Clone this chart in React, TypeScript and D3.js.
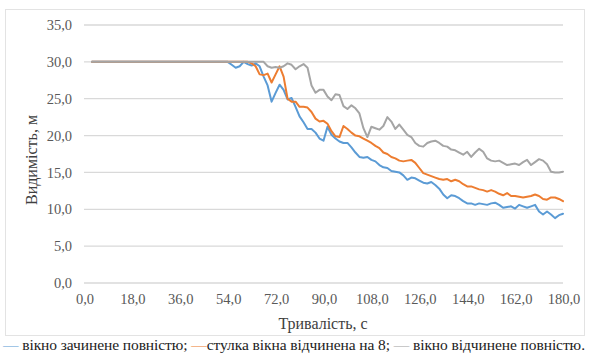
import React from "react";
import * as d3 from "d3";

const TIMES: number[] = [
  3, 4.5, 6, 7.5, 9, 10.5, 12, 13.5, 15, 16.5,
  18, 19.5, 21, 22.5, 24, 25.5, 27, 28.5, 30, 31.5,
  33, 34.5, 36, 37.5, 39, 40.5, 42, 43.5, 45, 46.5,
  48, 49.5, 51, 52.5, 54,
  55.5, 57, 58.5, 60, 61.5, 63, 64.5, 66, 67.5, 69,
  70.5, 72, 73.5, 75, 76.5, 78, 79.5, 81, 82.5, 84,
  85.5, 87, 88.5, 90, 91.5, 93, 94.5, 96, 97.5, 99,
  100.5, 102, 103.5, 105, 106.5, 108, 109.5, 111, 112.5, 114,
  115.5, 117, 118.5, 120, 121.5, 123, 124.5, 126, 127.5, 129,
  130.5, 132, 133.5, 135, 136.5, 138, 139.5, 141, 142.5, 144,
  145.5, 147, 148.5, 150, 151.5, 153, 154.5, 156, 157.5, 159,
  160.5, 162, 163.5, 165, 166.5, 168, 169.5, 171, 172.5, 174,
  175.5, 177, 178.5, 180,
];

const CLOSED: number[] = [
  30, 30, 30, 30, 30, 30, 30, 30, 30, 30,
  30, 30, 30, 30, 30, 30, 30, 30, 30, 30,
  30, 30, 30, 30, 30, 30, 30, 30, 30, 30,
  30, 30, 30, 30, 30,
  29.6, 29.2, 29.4, 30, 29.7, 29.5, 29.8, 29.4, 28.0, 26.8,
  24.6, 25.8, 26.9, 26.2, 24.9, 25.1, 23.9, 22.6, 21.8, 20.9,
  20.9, 20.4, 19.6, 19.3, 21.2, 20.1, 19.6, 19.2, 19.0, 19.0,
  18.4, 17.7, 17.1, 17.0, 17.1, 16.7, 16.5, 16.0, 15.7, 15.6,
  15.2, 15.1, 15.0, 14.6, 14.0, 14.3, 14.2, 13.9, 13.6, 13.5,
  13.7, 13.3, 12.8, 12.0, 11.5, 11.9, 11.8, 11.5, 11.1, 10.8,
  10.8, 10.6, 10.8, 10.7, 10.6, 10.8, 10.9, 10.6, 10.2, 10.3,
  10.4, 10.1, 10.6, 10.4, 10.2, 10.4, 10.6, 9.7, 9.3, 9.7,
  9.3, 8.8, 9.2, 9.4,
];

const SASH_OPEN: number[] = [
  30, 30, 30, 30, 30, 30, 30, 30, 30, 30,
  30, 30, 30, 30, 30, 30, 30, 30, 30, 30,
  30, 30, 30, 30, 30, 30, 30, 30, 30, 30,
  30, 30, 30, 30, 30,
  30, 30, 30, 30, 30, 29.8, 29.4, 28.3, 28.2, 28.4,
  27.2, 28.3, 29.4, 28.0, 25.0, 24.6, 24.6, 23.9, 23.9, 23.8,
  23.2, 22.3, 21.9, 22.0, 21.6, 20.6, 19.9, 19.8, 21.3, 20.9,
  20.4, 20.0, 19.9, 19.6, 19.3, 19.0, 18.6, 18.3, 17.7, 17.5,
  17.1, 16.9, 16.6, 16.5, 16.6, 16.7, 16.3, 15.6, 14.9, 14.7,
  14.5, 14.3, 14.1, 14.0, 14.1, 13.8, 14.0, 13.8, 13.4, 13.1,
  13.1, 12.9, 12.7, 12.6, 12.4, 12.6, 12.4, 12.1, 11.9, 12.2,
  11.8, 11.8, 11.7, 11.6, 11.7, 11.8, 12.0, 11.8, 11.4, 11.3,
  11.6, 11.6, 11.4, 11.1,
];

const FULL_OPEN: number[] = [
  30, 30, 30, 30, 30, 30, 30, 30, 30, 30,
  30, 30, 30, 30, 30, 30, 30, 30, 30, 30,
  30, 30, 30, 30, 30, 30, 30, 30, 30, 30,
  30, 30, 30, 30, 30,
  30, 30, 30, 30, 30, 30, 30, 30, 30, 29.4,
  29.2, 29.3, 29.2, 29.4, 29.8, 29.6, 29.0, 29.4, 29.7, 29.2,
  26.8, 25.8, 26.2, 26.2, 25.3, 24.8, 25.6, 25.5, 24.0, 23.6,
  24.1, 23.7, 23.0, 21.0, 19.8, 21.2, 21.0, 20.8, 21.3, 22.5,
  21.9, 20.9, 21.5, 20.8, 20.1, 19.8, 19.0, 18.6, 18.5, 19.0,
  19.2, 19.3, 19.0, 18.6, 18.5, 18.1, 18.0, 17.7, 17.4, 17.8,
  17.1, 17.7, 18.2, 17.8, 16.9, 16.6, 16.5, 16.6, 16.3, 16.0,
  16.1, 16.2, 16.0, 16.4, 16.7, 16.0, 16.4, 16.8, 16.6, 16.1,
  15.1, 15.0, 15.0, 15.1,
];

const SERIES_NAMES = [
  "вікно зачинене повністю;",
  "стулка вікна відчинена на 8;",
  "вікно відчинене повністю.",
];
const SERIES_COLORS = ["#5B9BD5", "#ED7D31", "#A5A5A5"];
const SERIES_VALUES = [CLOSED, SASH_OPEN, FULL_OPEN];

const X_TICKS = [0, 18, 36, 54, 72, 90, 108, 126, 144, 162, 180];
const Y_TICKS = [0, 5, 10, 15, 20, 25, 30, 35];

const X_TITLE = "Тривалість, с";
const Y_TITLE = "Видимість, м";

const W = 590;
const H = 353;
const FONT = "'Liberation Serif', 'DejaVu Serif', serif";

export default function App() {
  const x = d3.scaleLinear().domain([0, 180]).range([84, 563]);
  const y = d3.scaleLinear().domain([0, 35]).range([283, 25]);
  const fmt = (v: number) => v.toFixed(1).replace(".", ",");

  const line = d3
    .line<[number, number]>()
    .x((d) => x(d[0]))
    .y((d) => y(d[1]));

  const ts = { fontFamily: FONT };

  return (
    <svg
      width={W}
      height={H}
      style={{ position: "absolute", left: 0, top: 0, background: "#fff" }}
    >
      <rect x={5.5} y={9.5} width={579} height={326} fill="#fff" stroke="#E3E3E3" />
      {Y_TICKS.map((t) => (
        <g key={"y" + t}>
          <line x1={84} x2={563} y1={y(t)} y2={y(t)} stroke="#D9D9D9" strokeWidth={1.3} />
          <text
            x={72}
            y={y(t)}
            dy="0.35em"
            textAnchor="end"
            fontSize={14.5}
            fill="#595959"
            style={ts}
          >
            {fmt(t)}
          </text>
        </g>
      ))}
      {X_TICKS.map((t) => (
        <text
          key={"x" + t}
          x={x(t) + 1}
          y={299}
          dy="0.35em"
          textAnchor="middle"
          fontSize={14.5}
          fill="#595959"
          style={ts}
        >
          {fmt(t)}
        </text>
      ))}
      {SERIES_VALUES.map((vals, i) => (
        <path
          key={"s" + i}
          d={line(TIMES.map((t, j) => [t, vals[j]] as [number, number])) || ""}
          fill="none"
          stroke={SERIES_COLORS[i]}
          strokeWidth={2}
          strokeLinejoin="round"
          strokeLinecap="round"
        />
      ))}
      <text
        x={323}
        y={323}
        dy="0.35em"
        textAnchor="middle"
        fontSize={16}
        fill="#404040"
        style={ts}
      >
        {X_TITLE}
      </text>
      <text
        transform={`translate(31, ${(y(0) + y(35)) / 2 + 6}) rotate(-90)`}
        textAnchor="middle"
        dy="0.35em"
        fontSize={16}
        fill="#404040"
        style={ts}
      >
        {Y_TITLE}
      </text>
      <text
        x={3}
        y={345}
        dy="0.35em"
        fontSize={15.5}
        fill="#222"
        style={ts}
        textLength={582}
        lengthAdjust="spacing"
      >
        <tspan fill={SERIES_COLORS[0]}>—</tspan>
        <tspan> {SERIES_NAMES[0]} </tspan>
        <tspan fill={SERIES_COLORS[1]}>—</tspan>
        <tspan>{SERIES_NAMES[1]} </tspan>
        <tspan fill={SERIES_COLORS[2]}>—</tspan>
        <tspan> {SERIES_NAMES[2]}</tspan>
      </text>
    </svg>
  );
}
